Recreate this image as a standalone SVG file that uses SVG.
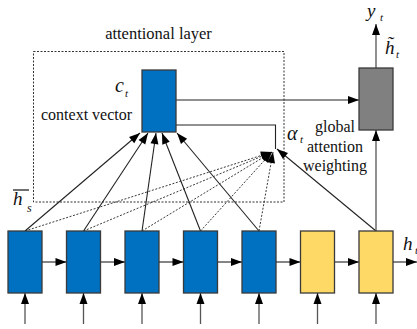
<svg xmlns="http://www.w3.org/2000/svg" width="417" height="329" viewBox="0 0 417 329">
  <defs>
    <marker id="arr" markerUnits="userSpaceOnUse" markerWidth="11" markerHeight="8" refX="11" refY="4" orient="auto" overflow="visible">
      <path d="M0,0 L11,4 L0,8 z" fill="#000"/>
    </marker>
    <style>
      .blue { fill: #0070C0; stroke: #3a3a3a; stroke-width: 1.3; }
      .yellow { fill: #FFD966; stroke: #3a3a3a; stroke-width: 1.3; }
      .grey { fill: #808080; stroke: #3a3a3a; stroke-width: 1.3; }
      .ln { stroke: #222; stroke-width: 1.1; fill: none; }
      .gl { stroke: #555; stroke-width: 1.3; fill: none; }
      .dot { stroke: #222; stroke-width: 0.9; stroke-dasharray: 2 1.6; fill: none; }
      .frame { stroke: #333; stroke-width: 1; stroke-dasharray: 2 1.5; fill: none; }
      .t { fill: #111; }
      .m { font-style: italic; fill: #111; }
    </style>
  </defs>

  <g font-family="'Liberation Serif', 'DejaVu Serif', serif">
  <!-- attentional layer frame -->
  <g id="attention-frame">
    <rect class="frame" x="33.5" y="51.5" width="250.5" height="150.5"/>
    <text class="t" x="158.5" y="39" font-size="16.5" text-anchor="middle">attentional layer</text>
  </g>

  <!-- connectors -->
  <g id="connectors">
    <!-- recurrent chain -->
    <line class="ln" x1="42" y1="262" x2="66.5" y2="262" marker-end="url(#arr)"/>
    <line class="ln" x1="100.5" y1="262" x2="125" y2="262" marker-end="url(#arr)"/>
    <line class="ln" x1="159" y1="262" x2="183.5" y2="262" marker-end="url(#arr)"/>
    <line class="ln" x1="217.5" y1="262" x2="242" y2="262" marker-end="url(#arr)"/>
    <line class="ln" x1="276" y1="262" x2="300.5" y2="262" marker-end="url(#arr)"/>
    <line class="ln" x1="334.5" y1="262" x2="359" y2="262" marker-end="url(#arr)"/>
    <line class="ln" x1="393" y1="262" x2="417" y2="262" marker-end="url(#arr)"/>

    <!-- inputs -->
    <line class="gl" x1="25" y1="324" x2="25" y2="293" marker-end="url(#arr)"/>
    <line class="gl" x1="83.5" y1="324" x2="83.5" y2="293" marker-end="url(#arr)"/>
    <line class="gl" x1="142" y1="324" x2="142" y2="293" marker-end="url(#arr)"/>
    <line class="gl" x1="200.5" y1="324" x2="200.5" y2="293" marker-end="url(#arr)"/>
    <line class="gl" x1="259" y1="324" x2="259" y2="293" marker-end="url(#arr)"/>
    <line class="gl" x1="317.5" y1="324" x2="317.5" y2="293" marker-end="url(#arr)"/>
    <line class="gl" x1="376" y1="324" x2="376" y2="293" marker-end="url(#arr)"/>

    <!-- source states to context vector -->
    <line class="ln" x1="25" y1="231" x2="140" y2="133" marker-end="url(#arr)"/>
    <line class="ln" x1="83.5" y1="231" x2="148" y2="133" marker-end="url(#arr)"/>
    <line class="ln" x1="142" y1="231" x2="156" y2="133" marker-end="url(#arr)"/>
    <line class="ln" x1="200.5" y1="231" x2="162" y2="133" marker-end="url(#arr)"/>
    <line class="ln" x1="259" y1="231" x2="177" y2="133" marker-end="url(#arr)"/>

    <!-- source states to alignment weights -->
    <line class="dot" x1="25" y1="231" x2="272" y2="152" marker-end="url(#arr)"/>
    <line class="dot" x1="83.5" y1="231" x2="272" y2="152" marker-end="url(#arr)"/>
    <line class="dot" x1="142" y1="231" x2="272" y2="152" marker-end="url(#arr)"/>
    <line class="dot" x1="200.5" y1="231" x2="272" y2="152" marker-end="url(#arr)"/>
    <line class="dot" x1="259" y1="231" x2="273" y2="152" marker-end="url(#arr)"/>

    <!-- target state to alignment weights -->
    <line class="ln" x1="376" y1="231" x2="277" y2="149" marker-end="url(#arr)"/>

    <!-- weights back into context vector -->
    <polyline class="ln" points="275.5,149 275.5,125 160,125" marker-end="url(#arr)"/>

    <!-- context vector and target state to attentional state -->
    <line class="ln" x1="176" y1="100" x2="359" y2="100" marker-end="url(#arr)"/>
    <line class="gl" x1="376" y1="231" x2="376" y2="130" marker-end="url(#arr)"/>
    <line class="gl" x1="376" y1="68" x2="376" y2="24" marker-end="url(#arr)"/>
  </g>

  <!-- context vector -->
  <g id="context-vector">
    <rect class="blue" x="142" y="70" width="34" height="62"/>
    <text class="m" x="115" y="92" font-size="20">c</text>
    <text class="m" x="125" y="97" font-size="11">t</text>
    <text class="t" x="41" y="120" font-size="16">context vector</text>
  </g>

  <!-- attentional hidden state -->
  <g id="attentional-state">
    <rect class="grey" x="359" y="68" width="34" height="62"/>
    <text class="m" x="385" y="54" font-size="19">h&#x303;</text>
    <text class="m" x="396" y="58" font-size="11">t</text>
    <text class="m" x="367" y="17" font-size="19">y</text>
    <text class="m" x="380" y="21" font-size="11">t</text>
  </g>

  <!-- alignment weights -->
  <g id="alignment-weights">
    <text class="m" x="287" y="140" font-size="20">α</text>
    <text class="m" x="300" y="143" font-size="11">t</text>
    <text class="t" x="335" y="132" font-size="16" text-anchor="middle">global</text>
    <text class="t" x="335" y="152" font-size="16" text-anchor="middle">attention</text>
    <text class="t" x="335" y="171" font-size="16" text-anchor="middle">weighting</text>
  </g>

  <!-- source hidden states -->
  <g id="source-states">
    <rect class="blue" x="8" y="231" width="34" height="62"/>
    <rect class="blue" x="66.5" y="231" width="34" height="62"/>
    <rect class="blue" x="125" y="231" width="34" height="62"/>
    <rect class="blue" x="183.5" y="231" width="34" height="62"/>
    <rect class="blue" x="242" y="231" width="34" height="62"/>
    <text class="m" x="13" y="205" font-size="19">h</text>
    <line x1="13" y1="190" x2="29" y2="190" stroke="#111" stroke-width="1.2"/>
    <text class="m" x="27" y="212" font-size="12">s</text>
  </g>

  <!-- target hidden states -->
  <g id="target-states">
    <rect class="yellow" x="300.5" y="231" width="34" height="62"/>
    <rect class="yellow" x="359" y="231" width="34" height="62"/>
    <text class="m" x="403" y="250" font-size="19">h</text>
    <text class="m" x="415" y="254" font-size="11">t</text>
  </g>
  </g>
</svg>
